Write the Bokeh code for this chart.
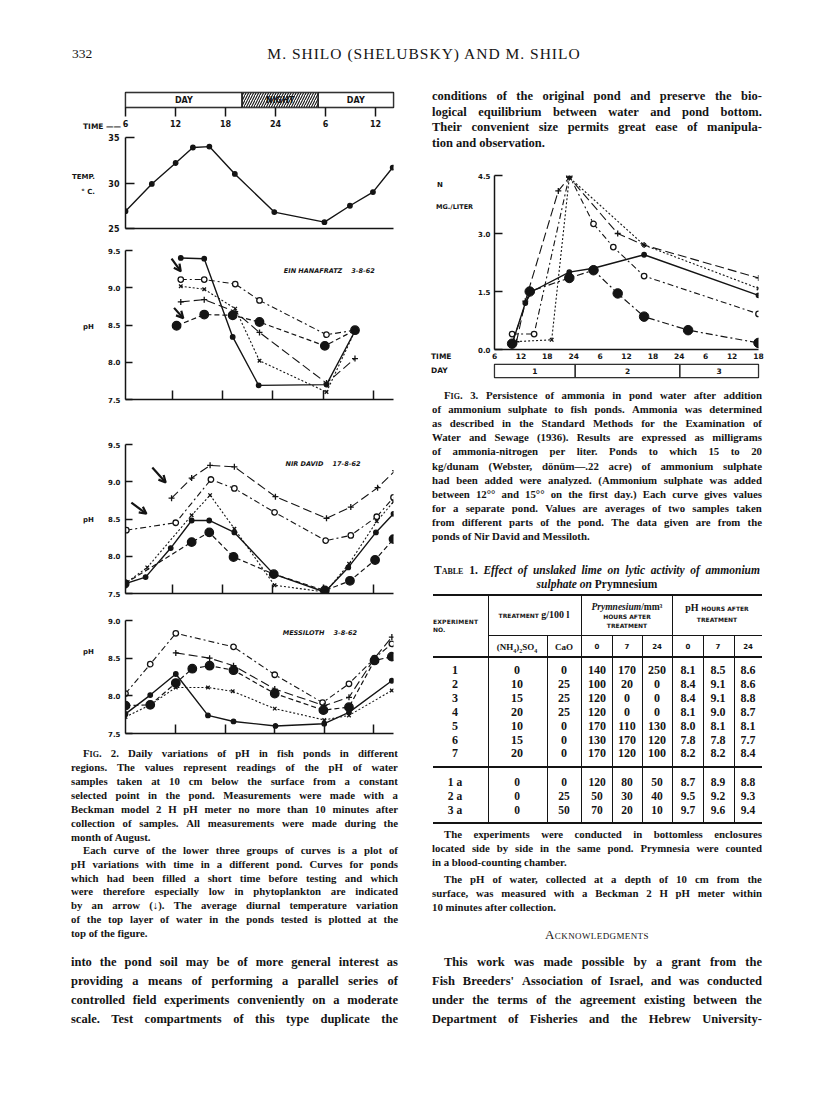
from bokeh.plotting import figure
from bokeh.models import Range1d, FixedTicker, PrintfTickFormatter, Label, Arrow, OpenHead, Div
from bokeh.layouts import column, row
from bokeh.embed import file_html
from bokeh.resources import INLINE
from bokeh.core.properties import value

# ------------------------------------------------------------------ data
# Fig. 2, time bar (hours from midnight of day 1)
bar_labels = ["DAY", "NIGHT", "DAY"]
bar_start = [6, 20, 29.1]
bar_end = [20, 29.1, 38.15]
time_ticks = [6, 12, 18, 24, 30, 36]
time_tick_labels = ["6", "12", "18", "24", "6", "12"]

# temperature (deg C)
temp_t = [5.6, 8.8, 11.7, 13.8, 15.8, 18.9, 23.7, 29.8, 32.9, 35.7, 38.1]
temp_c = [26.9, 29.9, 32.2, 33.9, 34.0, 31.0, 26.8, 25.7, 27.5, 29.0, 31.7]

# Ein Hanafratz 3-8-62 (pH)
ein_solid_t = [13.0, 15.8, 19.2, 22.3, 30.4, 33.8]
ein_solid_ph = [9.40, 9.39, 8.34, 7.69, 7.70, 8.42]
ein_open_t = [13.0, 15.8, 19.5, 22.4, 30.4, 33.8]
ein_open_ph = [9.11, 9.11, 9.05, 8.83, 8.37, 8.43]
ein_x_t = [13.0, 15.8, 19.5, 22.4, 30.4, 33.8]
ein_x_ph = [9.02, 8.98, 8.72, 8.02, 7.60, 8.42]
ein_plus_t = [13.0, 15.8, 19.5, 22.4, 30.4, 33.8]
ein_plus_ph = [8.81, 8.84, 8.68, 8.40, 7.72, 8.05]
ein_big_t = [12.5, 15.8, 19.2, 22.4, 30.2, 33.8]
ein_big_ph = [8.49, 8.64, 8.63, 8.54, 8.22, 8.43]

# Nir David 17-8-62 (pH)
nir_plus_t = [11.9, 14.3, 16.5, 19.4, 24.3, 30.4, 33.3, 36.5, 38.6]
nir_plus_ph = [8.78, 9.05, 9.22, 9.20, 8.80, 8.51, 8.66, 8.92, 9.15]
nir_open_t = [6.5, 12.4, 16.6, 19.4, 24.2, 30.3, 33.3, 36.4, 38.4]
nir_open_ph = [8.35, 8.45, 9.03, 8.91, 8.59, 8.21, 8.28, 8.53, 8.79]
nir_x_t = [6.3, 9.0, 14.3, 16.5, 19.4, 24.2, 30.3, 33.1, 36.4, 38.4]
nir_x_ph = [7.63, 7.85, 8.55, 8.82, 8.37, 7.61, 7.52, 7.90, 8.47, 8.73]
nir_solid_t = [6.3, 8.8, 11.8, 14.3, 16.4, 19.4, 24.1, 30.2, 33.0, 36.3, 38.4]
nir_solid_ph = [7.63, 7.72, 8.11, 8.48, 8.48, 8.32, 7.76, 7.52, 7.85, 8.32, 8.57]
nir_big_t = [6.3, 14.3, 16.4, 19.3, 24.1, 30.2, 33.2, 36.2, 38.4]
nir_big_ph = [7.63, 8.19, 8.32, 7.99, 7.76, 7.54, 7.67, 7.95, 8.23]

# Messiloth 3-8-62 (pH)
mess_open_t = [5.9, 8.9, 12.0, 19.0, 24.0, 29.8, 33.0, 36.1, 38.2]
mess_open_ph = [8.03, 8.42, 8.83, 8.65, 8.28, 7.91, 8.16, 8.50, 8.69]
mess_plus_t = [12.0, 16.1, 19.0, 24.0, 30.0, 33.0, 36.1, 38.2]
mess_plus_ph = [8.57, 8.50, 8.40, 8.09, 7.87, 7.98, 8.50, 8.78]
mess_big_t = [5.9, 8.9, 12.0, 14.0, 16.1, 19.0, 24.0, 29.9, 33.0, 36.1, 38.2]
mess_big_ph = [7.87, 7.88, 8.17, 8.36, 8.40, 8.34, 8.03, 7.81, 7.85, 8.47, 8.52]
mess_solid_t = [5.9, 8.9, 12.0, 15.9, 19.0, 24.1, 30.0, 33.0, 38.2]
mess_solid_ph = [7.76, 8.01, 8.29, 7.74, 7.66, 7.60, 7.63, 7.78, 8.20]
mess_x_t = [5.9, 8.9, 12.0, 15.9, 18.9, 24.0, 30.0, 33.0, 38.2]
mess_x_ph = [7.72, 7.88, 8.11, 8.11, 8.06, 7.83, 7.68, 7.74, 8.07]

# arrows marking newly filled ponds: (t_start, pH_start, t_end, pH_end)
ein_arrows = [(11.9, 9.39, 13.0, 9.22), (12.2, 8.73, 13.3, 8.59)]
nir_arrows = [(9.6, 9.19, 11.2, 8.99), (7.1, 8.72, 8.9, 8.57)]

# Fig. 3, ammonia N mg/liter (hours from midnight of day 1)
amm_solid_t = [10, 13, 14.5, 23, 28.5, 40, 66]
amm_solid_v = [0.15, 1.2, 1.5, 2.0, 2.1, 2.45, 1.4]
amm_big_t = [10, 14, 23, 28.5, 34, 40, 50, 66]
amm_big_v = [0.15, 1.5, 1.85, 2.05, 1.45, 0.85, 0.5, 0.17]
amm_plus_t = [11, 13, 20.5, 23, 34, 40, 66]
amm_plus_v = [0.2, 1.25, 4.1, 4.45, 3.0, 2.7, 1.85]
amm_x_t = [10, 19, 23, 40, 66]
amm_x_v = [0.2, 0.25, 4.45, 2.7, 1.58]
amm_open_t = [10, 15, 23, 28.5, 33, 40, 66]
amm_open_v = [0.4, 0.4, 4.5, 3.25, 2.65, 1.9, 0.92]
amm_ticks = [6, 12, 18, 24, 30, 36, 42, 48, 54, 60, 66]
amm_tick_labels = ["6", "12", "18", "24", "6", "12", "18", "24", "6", "12", "18"]
day_labels = ["1", "2", "3"]
day_start = [5.5, 24, 48]
day_end = [24, 48, 66]

# Table 1
tab_exp = ["1", "2", "3", "4", "5", "6", "7"]
tab_nh4 = [0, 10, 15, 20, 10, 15, 20]
tab_cao = [0, 25, 25, 25, 0, 0, 0]
tab_pry0 = [140, 100, 120, 120, 170, 130, 170]
tab_pry7 = [170, 20, 0, 0, 110, 170, 120]
tab_pry24 = [250, 0, 0, 0, 130, 120, 100]
tab_ph0 = [8.1, 8.4, 8.4, 8.1, 8.0, 7.8, 8.2]
tab_ph7 = [8.5, 9.1, 9.1, 9.0, 8.1, 7.8, 8.2]
tab_ph24 = [8.6, 8.6, 8.8, 8.7, 8.1, 7.7, 8.4]
taba_exp = ["1 a", "2 a", "3 a"]
taba_nh4 = [0, 0, 0]
taba_cao = [0, 25, 50]
taba_pry0 = [120, 50, 70]
taba_pry7 = [80, 30, 20]
taba_pry24 = [50, 40, 10]
taba_ph0 = [8.7, 9.5, 9.7]
taba_ph7 = [8.9, 9.2, 9.6]
taba_ph24 = [8.8, 9.3, 9.4]

# ------------------------------------------------------------------ style
INK = "#141414"
SANS = "DejaVu Sans"
SERIF = "Liberation Serif"

STY = {
    "solid": dict(dash="solid", marker="circle", size=4.5, fill=INK, lw=1.4),
    "open": dict(dash="6 3 2 3", marker="circle", size=5.5, fill="white", lw=1.1),
    "big": dict(dash="5 3", marker="circle", size=8.5, fill=INK, lw=1.2),
    "plus": dict(dash="9 4", marker="cross", size=6, fill=None, lw=1.1),
    "x": dict(dash="2 2", marker="x", size=5, fill=None, lw=1.1),
}


def make_fig(w, h, xr, yr, left, top, fw, fh):
    p = figure(width=w, height=h, x_range=Range1d(*xr), y_range=Range1d(*yr),
               output_backend="svg", toolbar_location=None,
               min_border_left=left, min_border_right=w - left - fw,
               min_border_top=top, min_border_bottom=h - top - fh, margin=0)
    p.xgrid.visible = False
    p.ygrid.visible = False
    p.outline_line_color = None
    p.background_fill_color = "white"
    p.border_fill_color = "white"
    for ax in p.axis:
        ax.axis_line_color = INK
        ax.axis_line_width = 1.5
        ax.major_tick_line_color = INK
        ax.major_tick_line_width = 1.5
        ax.minor_tick_line_color = None
        ax.major_tick_out = 0
        ax.major_tick_in = 0
        ax.major_label_text_font = SANS
        ax.major_label_text_font_style = "bold"
        ax.major_label_text_font_size = "7px"
        ax.major_label_text_color = INK
    return p


def blank_labels(ax, ticks):
    ax.major_label_overrides = {t: "" for t in ticks}
    ax.major_label_text_font_size = "1px"
    ax.major_label_standoff = 0


def series(p, t, y, kind):
    s = STY[kind]
    p.line(t, y, line_color=INK, line_width=s["lw"], line_dash=s["dash"])
    p.scatter(t, y, marker=s["marker"], size=s["size"], fill_color=s["fill"],
              line_color=INK, line_width=1.3)


def inlab(p, x, y, text, size="6.5px"):
    p.add_layout(Label(x=x, y=y, text=text, text_font=SANS, text_font_size=size,
                       text_font_style="bold italic", text_color=INK, text_baseline="middle"))


FIGW = 320   # width of the Fig. 2 plots (image x 95..415)
AMW = 334    # width of the Fig. 3 plot (image x 474..808)

# ---- time bar
ft = make_fig(FIGW, 52, (6, 38.15), (0, 1), 30, 12, 271, 15)
ft.border_fill_color = None
ft.outline_line_color = INK
ft.outline_line_width = 1.5
ft.yaxis.visible = False
ft.xaxis.axis_line_color = None
ft.xaxis.ticker = FixedTicker(ticks=time_ticks, minor_ticks=[])
ft.xaxis.major_label_overrides = dict(zip(time_ticks, time_tick_labels))
ft.xaxis.major_tick_out = 9
ft.xaxis.major_label_standoff = 3
ft.xaxis.major_label_text_font_size = "8px"
ft.quad(left=bar_start, right=bar_end, bottom=0, top=1, fill_color="white",
        line_color=INK, line_width=1.3)
ft.quad(left=bar_start[1:2], right=bar_end[1:2], bottom=0, top=1, fill_color="white",
        hatch_pattern="right_diagonal_line", hatch_scale=5, hatch_weight=1.1,
        hatch_color=INK, line_color=INK, line_width=1.3)
ft.text(x=[(a + b) / 2 for a, b in zip(bar_start, bar_end)], y=[0.5] * 3, text=bar_labels,
        text_align="center", text_baseline="middle", text_font=value(SANS),
        text_font_style="bold", text_font_size="8px", text_color=INK)

# ---- temperature
fT = make_fig(FIGW, 104, (5.6, 38.2), (25, 35), 27, 5, 275, 91)
fT.yaxis.ticker = FixedTicker(ticks=[25, 30, 35], minor_ticks=[])
fT.yaxis.formatter = PrintfTickFormatter(format="%d")
fT.yaxis.major_tick_in = 9
fT.yaxis.major_label_standoff = 6
fT.yaxis.major_label_text_font_size = "8px"
fT.xaxis.ticker = FixedTicker(ticks=[], minor_ticks=[])
blank_labels(fT.xaxis[0], [])
series(fT, temp_t, temp_c, "solid")

PANEL_TICKS = [12, 18, 24, 30, 36]


def ph_panel(h, top, xr, left, fw, fh, yticks):
    p = make_fig(FIGW, h, xr, (yticks[0], yticks[-1]), left, top, fw, fh)
    p.yaxis.ticker = FixedTicker(ticks=yticks, minor_ticks=[])
    p.yaxis.formatter = PrintfTickFormatter(format="%.1f")
    p.yaxis.major_tick_in = 7
    p.yaxis.major_label_standoff = 5
    p.xaxis.ticker = FixedTicker(ticks=PANEL_TICKS, minor_ticks=[])
    p.xaxis.major_tick_in = 9
    blank_labels(p.xaxis[0], PANEL_TICKS)
    return p


def arrows(p, lst):
    for (x0, y0, x1, y1) in lst:
        p.add_layout(Arrow(end=OpenHead(size=7, line_width=2.2, line_color=INK),
                           x_start=x0, y_start=y0, x_end=x1, y_end=y1,
                           line_width=2.2, line_color=INK))


# ---- Ein Hanafratz
fE = ph_panel(170, 14, (6.4, 38.4), 26, 272, 149, [7.5, 8.0, 8.5, 9.0, 9.5])
series(fE, ein_open_t, ein_open_ph, "open")
series(fE, ein_x_t, ein_x_ph, "x")
series(fE, ein_plus_t, ein_plus_ph, "plus")
series(fE, ein_big_t, ein_big_ph, "big")
series(fE, ein_solid_t, ein_solid_ph, "solid")
arrows(fE, ein_arrows)
inlab(fE, 25.3, 9.22, "EIN HANAFRATZ\u00a0\u00a0\u00a0\u00a03-8-62")

# ---- Nir David
fN = ph_panel(195, 38, (6.4, 38.4), 26, 272, 149, [7.5, 8.0, 8.5, 9.0, 9.5])
series(fN, nir_plus_t, nir_plus_ph, "plus")
series(fN, nir_open_t, nir_open_ph, "open")
series(fN, nir_x_t, nir_x_ph, "x")
series(fN, nir_big_t, nir_big_ph, "big")
series(fN, nir_solid_t, nir_solid_ph, "solid")
arrows(fN, nir_arrows)
inlab(fN, 25.5, 9.24, "NIR DAVID\u00a0\u00a0\u00a0\u00a017-8-62")

# ---- Messiloth
fM = ph_panel(140, 19, (5.9, 38.4), 23, 276, 113, [7.5, 8.0, 8.5, 9.0])
series(fM, mess_open_t, mess_open_ph, "open")
series(fM, mess_plus_t, mess_plus_ph, "plus")
series(fM, mess_x_t, mess_x_ph, "x")
series(fM, mess_big_t, mess_big_ph, "big")
series(fM, mess_solid_t, mess_solid_ph, "solid")
inlab(fM, 24.96, 8.83, "MESSILOTH\u00a0\u00a0\u00a0\u00a03-8-62")

# ---- Ammonia (Fig. 3)
fA = make_fig(AMW, 202, (6, 66), (0, 4.5), 20, 15, 264, 174)
fA.yaxis.ticker = FixedTicker(ticks=[0, 1.5, 3.0, 4.5], minor_ticks=[])
fA.yaxis.formatter = PrintfTickFormatter(format="%.1f")
fA.yaxis.major_tick_in = 8
fA.yaxis.major_label_standoff = 4
fA.xaxis.ticker = FixedTicker(ticks=amm_ticks, minor_ticks=[])
fA.xaxis.major_label_overrides = dict(zip(amm_ticks, amm_tick_labels))
fA.xaxis.major_label_standoff = 3
fA.xaxis.major_label_text_font_size = "7.5px"
series(fA, amm_open_t, amm_open_v, "open")
series(fA, amm_x_t, amm_x_v, "x")
series(fA, amm_plus_t, amm_plus_v, "plus")
fA.line(amm_big_t, amm_big_v, line_color=INK, line_width=1.2, line_dash="7 3 2 3")
fA.scatter(amm_big_t, amm_big_v, marker="circle", size=9.5, fill_color=INK, line_color=INK)
series(fA, amm_solid_t, amm_solid_v, "solid")

fD = make_fig(AMW, 20, (5.5, 66), (0, 1), 18, 2, 266, 13)
fD.xaxis.visible = False
fD.yaxis.visible = False
fD.outline_line_color = INK
fD.outline_line_width = 1.3
fD.quad(left=day_start, right=day_end, bottom=0, top=1, fill_color="white",
        line_color=INK, line_width=1.2)
fD.text(x=[(a + b) / 2 for a, b in zip(day_start, day_end)], y=[0.5] * 3, text=day_labels,
        text_align="center", text_baseline="middle", text_font=value(SANS),
        text_font_style="bold", text_font_size="7.5px", text_color=INK)

# ------------------------------------------------------------------ text blocks


def word_html(wd):
    if wd.startswith("\u00a7"):
        return '<span style="font-variant:small-caps;">%s</span>' % wd[1:]
    if wd.startswith("_"):
        return '<span style="font-style:italic;">%s</span>' % wd[1:]
    return wd


def tline(text, x, cy, w, size, lh, org, justify=True, weight="bold", font=SERIF, extra=""):
    ox, oy = org
    base = ("position:absolute;left:%.1fpx;top:%.1fpx;width:%.1fpx;height:%dpx;line-height:%dpx;"
            "font-family:'%s';font-size:%.1fpx;font-weight:%s;color:%s;white-space:nowrap;%s"
            % (x - ox, cy - lh / 2 - oy, w, lh, lh, font, size, weight, INK, extra))
    words = text.split(" ")
    if justify:
        inner = "".join("<span>%s%s</span>" % (word_html(wd), " " if i < len(words) - 1 else "")
                        for i, wd in enumerate(words))
        return '<div style="%sdisplay:flex;justify-content:space-between;">%s</div>' % (base, inner)
    return '<div style="%s">%s</div>' % (base, " ".join(word_html(wd) for wd in words))


def para(lines, x, y0, w, size, lh, step, org, indent=12, last_justify=False):
    out = []
    for i, ln in enumerate(lines):
        ind = indent if i == 0 else 0
        just = (i < len(lines) - 1) or last_justify
        out.append(tline(ln, x + ind, y0 + i * step, w - ind, size, lh, org, justify=just))
    return out


def wrap(parts, w, h):
    return Div(text='<div style="position:relative;width:%dpx;height:%dpx;overflow:visible;">%s</div>' % (w, h, "".join(parts)),
               width=w, height=h, margin=0, styles={"overflow": "visible", "z-index": "2"})


def sans_lab(text, x, cy, org, size=7, align="left", w=60):
    left = x - w if align == "right" else x
    return tline(text, left, cy, w, size, 10, org, justify=False, weight="bold", font=SANS,
                 extra="text-align:%s;" % align)


# header (image origin 0,0)
O_H = (0, 0)
hdr = [tline("332", 72, 54, 40, 13.5, 16, O_H, justify=False, weight="normal"),
       tline("M. SHILO (SHELUBSKY) AND M. SHILO", 224, 54, 400, 15.5, 18, O_H, justify=False,
             weight="normal", extra="text-align:center;letter-spacing:1px;")]
header_div = wrap(hdr, 808, 80)

# labels to the left of Fig. 2 plots
O_LL = (0, 80)
LL = [sans_lab("TIME \u2014\u2014", 83, 127, O_LL, size=7.5, w=40),
      sans_lab("TEMP.", 95, 177, O_LL, align="right"),
      sans_lab("\u00b0 C.", 95, 192, O_LL, align="right"),
      sans_lab("pH", 83, 327, O_LL),
      sans_lab("pH", 83, 520, O_LL),
      sans_lab("pH", 83, 652, O_LL)]
left_lab_div = wrap(LL, 95, 661)

# labels to the left of Fig. 3 plot
O_AL = (415, 160)
AL = [sans_lab("N", 437, 185, O_AL),
      sans_lab("MG./LITER", 436, 207, O_AL, size=6.5, w=38),
      sans_lab("TIME", 431, 357, O_AL, size=7.5),
      sans_lab("DAY", 431, 371, O_AL, size=7.5)]
amm_lab_div = wrap(AL, 59, 222)

# right top paragraph
O_RT = (415, 80)
rt = para(["conditions of the original pond and preserve the bio-",
           "logical equilibrium between water and pond bottom.",
           "Their convenient size permits great ease of manipula-",
           "tion and observation."], 432, 96, 330, 12.5, 16, 15.5, O_RT, indent=0)
rtop_div = wrap(rt, 393, 80)

# left text below Fig. 2
CAP = 10.8
BODY_Y = 962
O_L = (0, 741)
L = []
L += para(["\u00a7Fig. 2. Daily variations of pH in fish ponds in different",
           "regions. The values represent readings of the pH of water",
           "samples taken at 10 cm below the surface from a constant",
           "selected point in the pond. Measurements were made with a",
           "Beckman model 2 H pH meter no more than 10 minutes after",
           "collection of samples. All measurements were made during the",
           "month of August."], 71, 753, 327, CAP, 14, 14, O_L)
L += para(["Each curve of the lower three groups of curves is a plot of",
           "pH variations with time in a different pond. Curves for ponds",
           "which had been filled a short time before testing and which",
           "were therefore especially low in phytoplankton are indicated",
           "by an arrow (\u2193). The average diurnal temperature variation",
           "of the top layer of water in the ponds tested is plotted at the",
           "top of the figure."], 71, 850, 327, CAP, 14, 13.8, O_L)
L += para(["into the pond soil may be of more general interest as",
           "providing a means of performing a parallel series of",
           "controlled field experiments conveniently on a moderate",
           "scale. Test compartments of this type duplicate the"], 71, BODY_Y, 327, 12.5, 18, 19, O_L,
          indent=0, last_justify=True)
left_div = wrap(L, 415, 349)

# right text below Fig. 3
O_R = (415, 382)
R = []
R += para(["\u00a7Fig. 3. Persistence of ammonia in pond water after addition",
           "of ammonium sulphate to fish ponds. Ammonia was determined",
           "as described in the Standard Methods for the Examination of",
           "Water and Sewage (1936). Results are expressed as milligrams",
           "of ammonia-nitrogen per liter. Ponds to which 15 to 20",
           "kg/dunam (Webster, d\u00f6n\u00fcm\u2014.22 acre) of ammonium sulphate",
           "had been added were analyzed. (Ammonium sulphate was added",
           "between 12\u00b0\u00b0 and 15\u00b0\u00b0 on the first day.) Each curve gives values",
           "for a separate pond. Values are averages of two samples taken",
           "from different parts of the pond. The data given are from the",
           "ponds of Nir David and Messiloth."], 432, 395, 330, CAP, 14, 14.1, O_R)

# table title
R.append(tline("\u00a7Table 1. _Effect _of _unslaked _lime _on _lytic _activity _of _ammonium",
               434, 570, 326, 11.5, 14, O_R))
R.append(tline("_sulphate _on Prymnesium", 434, 584, 326, 11.5, 14, O_R, justify=False,
               extra="text-align:center;"))

OX, OY = O_R


def hl(x1, x2, y, t=1.2):
    return ('<div style="position:absolute;left:%.1fpx;top:%.1fpx;width:%.1fpx;height:%.1fpx;background:%s;"></div>'
            % (x1 - OX, y - t / 2 - OY, x2 - x1, t, INK))


def vl(x, y1, y2, t=1.0):
    return ('<div style="position:absolute;left:%.1fpx;top:%.1fpx;width:%.1fpx;height:%.1fpx;background:%s;"></div>'
            % (x - t / 2 - OX, y1 - OY, t, y2 - y1, INK))


def cell(text, cx, cy, size=11.5, w=40, weight="bold", style="normal", font=SERIF, align="center", extra=""):
    left = cx - w / 2 if align == "center" else cx
    return ('<div style="position:absolute;left:%.1fpx;top:%.1fpx;width:%.1fpx;height:14px;line-height:14px;'
            'font-family:\'%s\';font-size:%.1fpx;font-weight:%s;font-style:%s;text-align:%s;color:%s;white-space:nowrap;%s">%s</div>'
            % (left - OX, cy - 7 - OY, w, font, size, weight, style, align, INK, extra, text))


TL, TR = 433, 762
R.append(hl(TL, TR, 595, 1.6))
R.append(hl(488, TR, 635, 1.0))
R.append(hl(TL, TR, 657, 1.6))
R.append(hl(TL, TR, 767, 1.2))
R.append(hl(TL, TR, 823, 1.6))
for x in [488, 581, 672]:
    R.append(vl(x, 595, 823))
for x in [547, 612, 642, 703, 734]:
    R.append(vl(x, 635, 823))

R.append(cell("experiment", TL, 622, size=6, w=55, align="left", font=SANS,
              extra="letter-spacing:0.2px;text-transform:uppercase;"))
R.append(cell("no.", TL, 630, size=6, w=55, align="left", font=SANS, extra="text-transform:uppercase;"))
R.append(cell('<span style="text-transform:uppercase;font-family:\'DejaVu Sans\';font-size:6px;">treatment</span> g/100 l',
              534, 615, size=10, w=90))
R.append(cell('<i>Prymnesium</i>/mm\u00b3', 627, 607, size=9.5, w=90))
R.append(cell('hours after', 627, 617, size=6, w=90, font=SANS, extra="text-transform:uppercase;"))
R.append(cell('treatment', 627, 626, size=6, w=90, font=SANS, extra="text-transform:uppercase;"))
R.append(cell('pH <span style="text-transform:uppercase;font-family:\'DejaVu Sans\';font-size:6px;">hours after</span>',
              717, 608, size=10, w=90))
R.append(cell('treatment', 717, 620, size=6, w=90, font=SANS, extra="text-transform:uppercase;"))
R.append(cell('(NH<sub style="font-size:6px;">4</sub>)<sub style="font-size:6px;">2</sub>SO<sub style="font-size:6px;">4</sub>',
              517, 647, size=9, w=58))
R.append(cell("CaO", 564, 647, size=9, w=34))
for cx, t in zip([597, 627, 657, 688, 718, 748], ["0", "7", "24", "0", "7", "24"]):
    R.append(cell(t, cx, 647, size=7, w=28, font=SANS))

COLS = [455, 517, 564, 597, 627, 657, 688, 718, 748]
for i in range(len(tab_exp)):
    y = 670 + 13.9 * i
    vals = [tab_exp[i], str(tab_nh4[i]), str(tab_cao[i]), str(tab_pry0[i]), str(tab_pry7[i]),
            str(tab_pry24[i]), "%.1f" % tab_ph0[i], "%.1f" % tab_ph7[i], "%.1f" % tab_ph24[i]]
    for cx, v in zip(COLS, vals):
        R.append(cell(v, cx, y, size=12, w=30))
for i in range(len(taba_exp)):
    y = 782 + 14 * i
    vals = [taba_exp[i], str(taba_nh4[i]), str(taba_cao[i]), str(taba_pry0[i]), str(taba_pry7[i]),
            str(taba_pry24[i]), "%.1f" % taba_ph0[i], "%.1f" % taba_ph7[i], "%.1f" % taba_ph24[i]]
    for cx, v in zip(COLS, vals):
        R.append(cell(v, cx, y, size=11.5, w=30))

R += para(["The experiments were conducted in bottomless enclosures",
           "located side by side in the same pond. Prymnesia were counted",
           "in a blood-counting chamber."], 432, 834, 330, CAP, 14, 14, O_R)
R += para(["The pH of water, collected at a depth of 10 cm from the",
           "surface, was measured with a Beckman 2 H pH meter within",
           "10 minutes after collection."], 432, 879, 330, CAP, 14, 14, O_R)
R.append(tline("\u00a7Acknowledgments", 432, 935, 330, 13, 16, O_R, justify=False, weight="normal",
               extra="text-align:center;letter-spacing:0.4px;"))
R += para(["This work was made possible by a grant from the",
           "Fish Breeders' Association of Israel, and was conducted",
           "under the terms of the agreement existing between the",
           "Department of Fisheries and the Hebrew University-"], 432, BODY_Y, 330, 12.5, 18, 19, O_R,
          indent=12, last_justify=True)
right_div = wrap(R, 393, 708)

left_figs = column(ft, fT, fE, fN, fM, width=FIGW, spacing=0, margin=0)
left_col = column(row(left_lab_div, left_figs, spacing=0, margin=0), left_div, width=415, spacing=0, margin=0)
right_mid = row(amm_lab_div, column(fA, fD, spacing=0, margin=0), spacing=0, margin=0)
right_col = column(rtop_div, right_mid, right_div, width=393, spacing=0, margin=0)
page = column(header_div, row(left_col, right_col, spacing=0, margin=0), spacing=0, margin=0)

open("out.html", "w").write(file_html(page, INLINE, "page"))
